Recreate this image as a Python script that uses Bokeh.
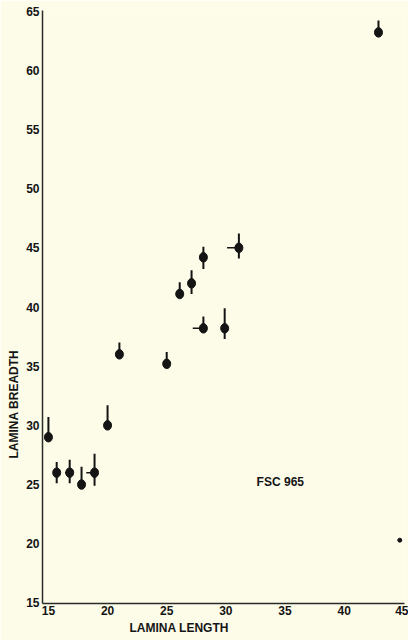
from bokeh.plotting import figure
from bokeh.models import Label, Range1d, FixedTicker, Title
from bokeh.embed import file_html
from bokeh.resources import INLINE

# Data
lengths = [15.0, 15.7, 16.8, 17.8, 18.9, 20.0, 21.0, 25.0, 26.1, 27.1, 28.1, 31.1, 28.1, 29.9, 42.9]
breadths = [29.0, 26.0, 26.0, 25.0, 26.0, 30.0, 36.0, 35.2, 41.1, 42.0, 44.2, 45.0, 38.2, 38.2, 63.2]
breadth_hi = [30.7, 26.9, 27.1, 26.5, 27.6, 31.7, 37.0, 36.2, 42.1, 43.1, 45.1, 46.2, 39.2, 39.9, 64.2]
breadth_lo = [29.0, 25.1, 25.1, 25.0, 24.9, 30.0, 36.0, 35.2, 41.1, 41.1, 43.2, 44.1, 38.2, 37.3, 63.2]
length_lo = [15.0, 15.7, 16.4, 17.8, 18.2, 20.0, 21.0, 25.0, 26.1, 27.1, 28.1, 30.1, 27.2, 29.9, 42.9]
stray_x = [44.7]
stray_y = [20.3]

x_ticks = [15, 20, 25, 30, 35, 40, 45]
y_ticks = [15, 20, 25, 30, 35, 40, 45, 50, 55, 60, 65]

BG = "#fdfce9"
INK = "#141414"
FONT = "Liberation Sans"

p = figure(width=408, height=640, output_backend="svg", toolbar_location=None,
           x_range=Range1d(14.5, 45.1), y_range=Range1d(14.95, 65.05),
           min_border_left=42, min_border_right=4, min_border_top=10, min_border_bottom=37)
p.background_fill_color = BG
p.border_fill_color = BG
p.outline_line_color = None
p.grid.visible = False

for ax in (p.xaxis[0], p.yaxis[0]):
    ax.axis_line_color = "#2a2a2a"
    ax.axis_line_width = 1.5
    ax.major_tick_line_color = None
    ax.minor_tick_line_color = None
    ax.major_label_text_font = FONT
    ax.major_label_text_font_style = "bold"
    ax.major_label_text_font_size = "12px"
    ax.major_label_text_color = INK
    ax.major_tick_out = 0
    ax.major_tick_in = 0
p.xaxis.major_label_standoff = 2
p.yaxis.major_label_standoff = 3
p.xaxis.ticker = FixedTicker(ticks=x_ticks)
p.yaxis.ticker = FixedTicker(ticks=y_ticks)

# error bars
p.segment(x0=lengths, y0=breadth_lo, x1=lengths, y1=breadth_hi, line_color=INK, line_width=2)
p.segment(x0=length_lo, y0=breadths, x1=lengths, y1=breadths, line_color=INK, line_width=1.5)
# points
p.ellipse(x=lengths, y=breadths, width=8, height=9.5, width_units="screen", height_units="screen",
          fill_color=INK, line_color=INK)
p.scatter(x=stray_x, y=stray_y, size=4, fill_color=INK, line_color=INK)

p.add_layout(Label(x=32.6, y=25.2, text="FSC 965", text_font=FONT, text_font_style="bold",
                   text_font_size="12px", text_color=INK, text_baseline="middle", text_align="left"))

p.add_layout(Title(text="LAMINA LENGTH", align="left", offset=87, text_font=FONT,
                   text_font_style="bold", text_font_size="12px", text_color=INK,
                   standoff=2), "below")
p.add_layout(Title(text="LAMINA BREADTH", align="left", offset=145, text_font=FONT,
                   text_font_style="bold", text_font_size="12px", text_color=INK,
                   standoff=5), "left")

open("out.html", "w").write(file_html(p, INLINE))
